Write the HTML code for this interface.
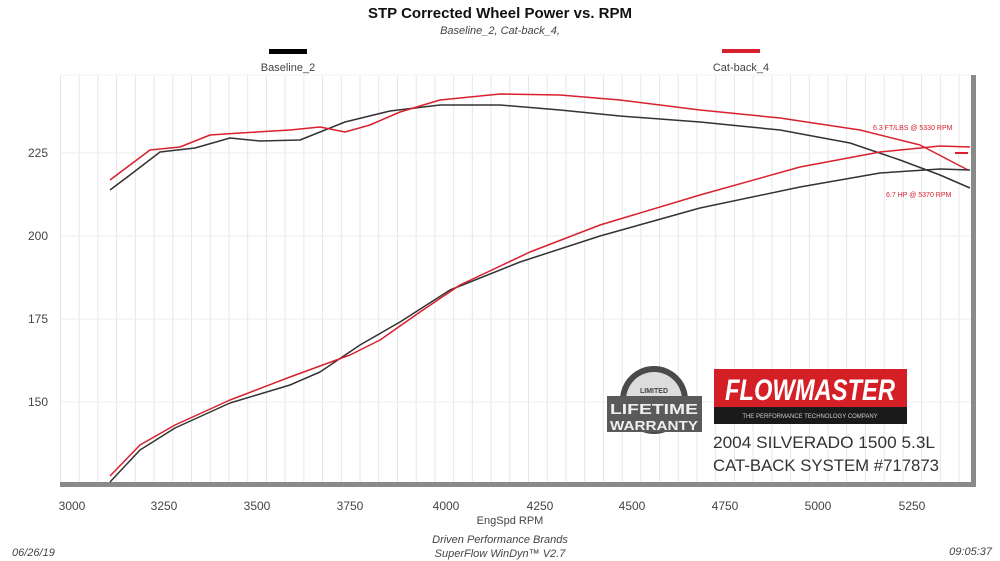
<!DOCTYPE html>
<html><head><meta charset="utf-8"><style>
body{margin:0;background:#fff;}
svg{display:block;font-family:"Liberation Sans",Arial,sans-serif;}
</style></head><body>
<svg width="1000" height="561" viewBox="0 0 1000 561" xmlns="http://www.w3.org/2000/svg">
<defs>
<pattern id="vg" x="60" y="0" width="18.72" height="561" patternUnits="userSpaceOnUse">
<line x1="0.5" y1="0" x2="0.5" y2="561" stroke="#e6e6e6" stroke-width="1"/>
</pattern>
</defs>
<rect width="1000" height="561" fill="#fff"/>
<rect x="60" y="75" width="912" height="408" fill="url(#vg)"/>
<g stroke="#eeeeee" stroke-width="1">
<line x1="60" y1="153" x2="972" y2="153"/><line x1="60" y1="236" x2="972" y2="236"/>
<line x1="60" y1="319" x2="972" y2="319"/><line x1="60" y1="402" x2="972" y2="402"/>
</g>
<line x1="60" y1="75" x2="972" y2="75" stroke="#f0f0f0"/>
<rect x="60" y="482" width="916" height="5" fill="#8a8a8a"/>
<rect x="971" y="75" width="5" height="412" fill="#8a8a8a"/>
<text x="500" y="18" font-size="15" font-weight="bold" text-anchor="middle" fill="#111">STP Corrected Wheel Power vs. RPM</text>
<text x="500" y="34" font-size="11" font-style="italic" text-anchor="middle" fill="#444">Baseline_2, Cat-back_4,</text>
<rect x="269" y="49" width="38" height="5" fill="#000"/>
<text x="288" y="71" font-size="11" text-anchor="middle" fill="#444">Baseline_2</text>
<rect x="722" y="49" width="38" height="4" fill="#d8202e"/>
<text x="741" y="71" font-size="11" text-anchor="middle" fill="#444">Cat-back_4</text>
<g font-size="12" fill="#444" text-anchor="end">
<text x="48" y="157">225</text><text x="48" y="240">200</text><text x="48" y="323">175</text><text x="48" y="406">150</text>
</g>
<g font-size="12" fill="#444" text-anchor="middle">
<text x="72" y="510">3000</text><text x="164" y="510">3250</text><text x="257" y="510">3500</text><text x="350" y="510">3750</text><text x="446" y="510">4000</text>
<text x="540" y="510">4250</text><text x="632" y="510">4500</text><text x="725" y="510">4750</text><text x="818" y="510">5000</text><text x="912" y="510">5250</text>
</g>
<text x="510" y="524" font-size="11" fill="#444" text-anchor="middle">EngSpd  RPM</text>
<text x="500" y="543" font-size="11" font-style="italic" fill="#444" text-anchor="middle">Driven Performance Brands</text>
<text x="500" y="557" font-size="11" font-style="italic" fill="#444" text-anchor="middle">SuperFlow WinDyn™ V2.7</text>
<text x="12" y="556" font-size="11" font-style="italic" fill="#444">06/26/19</text>
<text x="992" y="555" font-size="11" font-style="italic" fill="#444" text-anchor="end">09:05:37</text>
<g fill="none" stroke-width="1.5" stroke-linejoin="round">
<polyline stroke="#333" points="110,190 130,175 160,152 195,148 230,138 260,141 300,140 320,132 345,122 390,111 440,105 500,105 560,110 620,116 700,122 780,130 850,143 900,160 940,175 970,188"/>
<polyline stroke="#d8202e" points="110,180 130,165 150,150 180,147 210,135 240,133 290,130 320,127 345,132 370,125 400,112 440,100 500,94 560,95 620,100 700,110 780,118 860,130 920,145 968,170"/>
<polyline stroke="#333" points="110,482 140,450 175,428 230,403 290,385 320,372 360,345 400,322 450,290 520,262 600,236 700,208 800,187 880,173 940,169 970,170"/>
<polyline stroke="#d8202e" points="110,476 140,445 175,425 230,400 290,377 350,355 380,340 420,312 460,285 530,252 600,225 700,195 800,167 880,152 940,146 970,147"/>
</g>
<line x1="955" y1="153" x2="968" y2="153" stroke="#d8202e" stroke-width="2"/>
<text x="873" y="130" font-size="7" fill="#d8202e">6.3 FT/LBS @ 5330 RPM</text>
<text x="886" y="197" font-size="7" fill="#d8202e">6.7 HP @ 5370 RPM</text>
<circle cx="654" cy="400" r="34" fill="#4a4a4a"/>
<circle cx="654" cy="400" r="28" fill="#dcdcdc"/>
<rect x="607" y="396" width="95" height="36" fill="#5a5a5a"/>
<text x="654" y="414" font-size="15" font-weight="bold" fill="#eee" text-anchor="middle" textLength="88" lengthAdjust="spacingAndGlyphs">LIFETIME</text>
<text x="654" y="430" font-size="13" font-weight="bold" fill="#eee" text-anchor="middle" textLength="88" lengthAdjust="spacingAndGlyphs">WARRANTY</text>
<text x="654" y="393" font-size="7" font-weight="bold" fill="#444" text-anchor="middle">LIMITED</text>
<rect x="714" y="369" width="193" height="55" fill="#1a1a1a"/>
<rect x="714" y="369" width="193" height="38" fill="#d41f27"/>
<text x="810" y="400" font-size="30" font-weight="bold" font-style="italic" fill="#fff" text-anchor="middle" textLength="170" lengthAdjust="spacingAndGlyphs">FLOWMASTER</text>
<text x="810" y="418" font-size="6" fill="#ccc" text-anchor="middle">THE PERFORMANCE TECHNOLOGY COMPANY</text>
<text x="713" y="448" font-size="17" fill="#333" textLength="222" lengthAdjust="spacingAndGlyphs">2004 SILVERADO 1500 5.3L</text>
<text x="713" y="471" font-size="17" fill="#333" textLength="226" lengthAdjust="spacingAndGlyphs">CAT-BACK SYSTEM #717873</text>
</svg>
</body></html>
